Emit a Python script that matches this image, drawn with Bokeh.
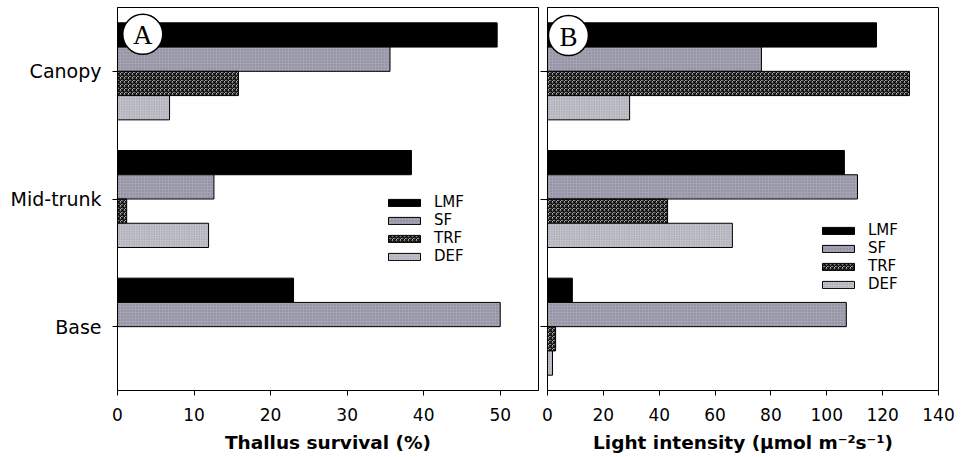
from bokeh.plotting import figure
from bokeh.layouts import row
from bokeh.models import Range1d, FixedTicker, Legend, LegendItem, Label
from bokeh.embed import file_html
from bokeh.resources import INLINE

# ---------------- data ----------------
categories = ["Base", "Mid-trunk", "Canopy"]          # bottom -> top
series = ["LMF", "SF", "TRF", "DEF"]

# Panel A: Thallus survival (%)
survival_LMF = [23.0, 38.4, 49.6]
survival_SF = [50.0, 12.6, 35.6]
survival_TRF = [0.0, 1.2, 15.8]
survival_DEF = [0.0, 11.9, 6.8]

# Panel B: Light intensity (umol m-2 s-1)
light_LMF = [8.9, 106.3, 117.8]
light_SF = [107.0, 111.0, 76.6]
light_TRF = [2.9, 43.0, 129.6]
light_DEF = [1.8, 66.2, 29.4]

survival_ticks = [0, 10, 20, 30, 40, 50]
light_ticks = [0, 20, 40, 60, 80, 100, 120, 140]

# ---------------- styles ----------------
FONT = "DejaVu Sans"
offsets = {"LMF": 0.285, "SF": 0.095, "TRF": -0.095, "DEF": -0.285}
bar_h = 0.19
styles = {
    "LMF": dict(fill_color="black"),
    "SF": dict(fill_color="#a3a3b3", hatch_pattern="dot", hatch_color="#7c7c8c",
               hatch_scale=3, hatch_weight=1),
    "TRF": dict(fill_color="white", hatch_pattern="criss_cross", hatch_color="black",
                hatch_scale=4, hatch_weight=1.1),
    "DEF": dict(fill_color="#c3c3cc", hatch_pattern="dot", hatch_color="#9090a0",
                hatch_scale=2.5, hatch_weight=1),
}


def make_panel(values, xmax, ticks, width, height, bl, br, bt, bb, xlabel,
               show_ylabels, letter, letter_xy, legend_loc, tick_standoff, title_standoff):
    p = figure(width=width, height=height, output_backend="svg",
               toolbar_location=None,
               x_range=Range1d(0, xmax), y_range=Range1d(0, 3),
               min_border_left=bl, min_border_right=br,
               min_border_top=bt, min_border_bottom=bb)
    p.background_fill_color = "white"
    p.border_fill_color = "white"
    p.outline_line_color = "black"
    p.outline_line_width = 1
    p.xgrid.visible = False
    p.ygrid.visible = False

    items = []
    for s in series:
        ys = [i + 0.5 + offsets[s] for i in range(len(categories))]
        r = p.hbar(y=ys, right=values[s], left=0, height=bar_h,
                   line_color="black", line_width=1, **styles[s])
        items.append(LegendItem(label=s, renderers=[r]))

    # x axis
    xa = p.xaxis[0]
    xa.ticker = FixedTicker(ticks=ticks)
    xa.minor_tick_line_color = None
    xa.major_tick_in = 0
    xa.major_tick_out = 5
    xa.axis_line_color = "black"
    xa.major_tick_line_color = "black"
    xa.major_label_text_font = FONT
    xa.major_label_text_font_size = "17px"
    xa.major_label_text_color = "black"
    xa.major_label_standoff = tick_standoff
    xa.axis_label = xlabel
    xa.axis_label_text_font = FONT
    xa.axis_label_text_font_size = "18.5px"
    xa.axis_label_text_font_style = "bold"
    xa.axis_label_text_color = "black"
    xa.axis_label_standoff = title_standoff

    # y axis
    ya = p.yaxis[0]
    ya.ticker = FixedTicker(ticks=[i + 0.5 for i in range(len(categories))])
    ya.minor_tick_line_color = None
    ya.major_tick_in = 0
    ya.axis_line_color = "black"
    ya.major_tick_line_color = "black"
    if show_ylabels:
        ya.major_label_overrides = {i + 0.5: c for i, c in enumerate(categories)}
        ya.major_tick_out = 5
        ya.major_label_text_font = FONT
        ya.major_label_text_font_size = "19px"
        ya.major_label_text_color = "black"
        ya.major_label_standoff = 11
    else:
        ya.major_label_overrides = {i + 0.5: "" for i in range(len(categories))}
        ya.major_tick_out = 7
        ya.major_label_standoff = 0
        ya.major_label_text_font_size = "1px"

    # panel letter
    p.scatter(x=[letter_xy[0]], y=[letter_xy[1]], size=40, marker="circle",
              fill_color="white", line_color="black", line_width=1.5)
    p.add_layout(Label(x=letter_xy[0], y=letter_xy[1], text=letter,
                       text_font="Liberation Serif", text_font_size="27px",
                       text_align="center", text_baseline="middle",
                       text_color="black", y_offset=-1))

    leg = Legend(items=items, location=legend_loc, orientation="vertical",
                 glyph_width=40, glyph_height=9, label_height=14,
                 label_standoff=10, spacing=-3, padding=0, margin=0,
                 border_line_color=None, background_fill_alpha=0,
                 label_text_font=FONT, label_text_font_size="15px",
                 label_text_color="black")
    p.add_layout(leg, "center")
    return p


pA = make_panel(
    {"LMF": survival_LMF, "SF": survival_SF, "TRF": survival_TRF, "DEF": survival_DEF},
    55, survival_ticks, 540, 455, 117, 2, 7, 63,
    "Thallus survival (%)", True, "A", (3.3, 2.79), (267, 125), 12, 8)

pB = make_panel(
    {"LMF": light_LMF, "SF": light_SF, "TRF": light_TRF, "DEF": light_DEF},
    140, light_ticks, 418, 455, 7, 20, 7, 63,
    "Light intensity (\u03bcmol m\u207b\u00b2s\u207b\u00b9)", False, "B", (7.5, 2.78), (271, 97), 12, 8)

layout = row(pA, pB, spacing=0)
open("out.html", "w").write(file_html(layout, INLINE))
